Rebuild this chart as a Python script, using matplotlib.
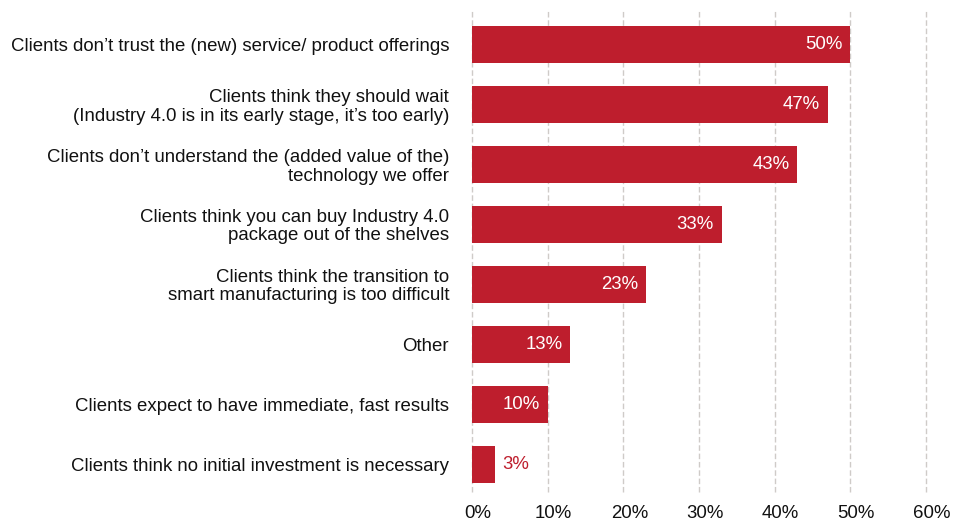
import matplotlib
matplotlib.use("Agg")
import matplotlib.pyplot as plt
import matplotlib.transforms as mtransforms
from matplotlib.ticker import FuncFormatter

plt.rcParams['font.family'] = ['Liberation Sans', 'DejaVu Sans']

# ── Data ──────────────────────────────────────────────────────────────────────
categories = [
    "Clients don\u2019t trust the (new) service/ product offerings",
    "Clients think they should wait\n(Industry 4.0 is in its early stage, it\u2019s too early)",
    "Clients don\u2019t understand the (added value of the)\ntechnology we offer",
    "Clients think you can buy Industry 4.0\npackage out of the shelves",
    "Clients think the transition to\nsmart manufacturing is too difficult",
    "Other",
    "Clients expect to have immediate, fast results",
    "Clients think no initial investment is necessary",
]
values = [50, 47, 43, 33, 23, 13, 10, 3]
xticks = [0, 10, 20, 30, 40, 50, 60]

RED = '#BE1E2D'
FS = 13.4

fig = plt.figure(figsize=(9.55, 5.23), dpi=100)
ax = fig.add_axes([472/955, 1 - 492/523, (926-472)/955, (492-10)/523])

pos = list(range(len(categories)))
ax.barh(pos, values, height=0.62, color=RED, zorder=3)

# value labels: inside (white) for long bars, outside (red) for tiny ones
for y, v in zip(pos, values):
    if v >= 8:
        ax.text(v - 1.05, y, f"{v}%", ha='right', va='center',
                color='white', fontsize=FS, zorder=4)
    else:
        ax.text(v + 1.05, y, f"{v}%", ha='left', va='center',
                color=RED, fontsize=FS, zorder=4)

ax.set_xlim(0, 60)
ax.set_ylim(7.46, -0.575)
ax.set_xticks(xticks)
ax.xaxis.set_major_formatter(FuncFormatter(lambda x, _: f"{x:.0f}%"))
ax.set_yticks(pos)
ax.set_yticklabels(categories, fontsize=FS, ha='right', multialignment='right',
                   linespacing=1.08)
ax.tick_params(axis='both', length=0, labelsize=FS, colors='#111111')
ax.tick_params(axis='y', pad=16.5)
ax.tick_params(axis='x', pad=9)

# x labels sit slightly right of their gridlines in the original
shift = mtransforms.ScaledTranslation(0.06, 0, fig.dpi_scale_trans)
for lbl in ax.get_xticklabels():
    lbl.set_transform(lbl.get_transform() + shift)

ax.grid(axis='x', linestyle=(0, (4, 2)), color='#CFCBC8', linewidth=1, zorder=0)
for gl in ax.get_xgridlines():
    gl.set_clip_on(False)
for s in ax.spines.values():
    s.set_visible(False)

fig.savefig("out.png", dpi=100)
